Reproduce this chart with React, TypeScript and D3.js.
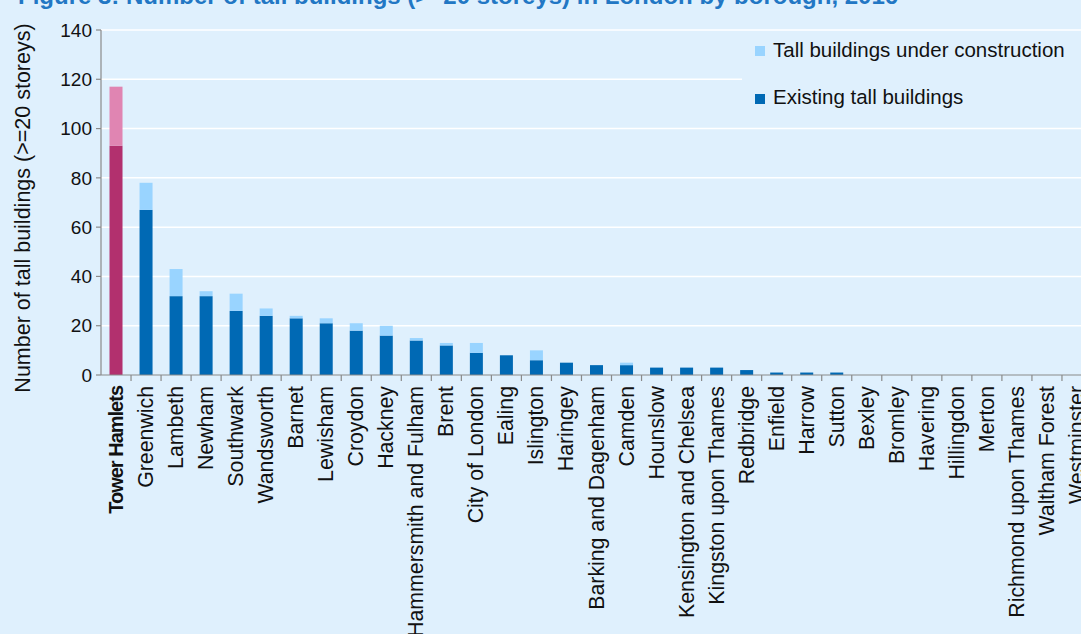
import React from 'react';
import * as d3 from 'd3';

const boroughs = [
  'Tower Hamlets', 'Greenwich', 'Lambeth', 'Newham', 'Southwark', 'Wandsworth', 'Barnet',
  'Lewisham', 'Croydon', 'Hackney', 'Hammersmith and Fulham', 'Brent', 'City of London',
  'Ealing', 'Islington', 'Haringey', 'Barking and Dagenham', 'Camden', 'Hounslow',
  'Kensington and Chelsea', 'Kingston upon Thames', 'Redbridge', 'Enfield', 'Harrow',
  'Sutton', 'Bexley', 'Bromley', 'Havering', 'Hillingdon', 'Merton',
  'Richmond upon Thames', 'Waltham Forest', 'Westminster',
];
const existing = [93, 67, 32, 32, 26, 24, 23, 21, 18, 16, 14, 12, 9, 8, 6, 5, 4, 4, 3, 3, 3, 2, 1, 1, 1, 0, 0, 0, 0, 0, 0, 0, 0];
const underConstruction = [24, 11, 11, 2, 7, 3, 1, 2, 3, 4, 1, 1, 4, 0, 4, 0, 0, 1, 0, 0, 0, 0, 0, 0, 0, 0, 0, 0, 0, 0, 0, 0, 0];
const yTicks = [0, 20, 40, 60, 80, 100, 120, 140];
const highlight = 'Tower Hamlets';

const W = 1081;
const H = 634;
const BG = '#dff0fd';
const FONT = 'Liberation Sans, Arial, sans-serif';
const AXIS = '#8a8a8a';

const App: React.FC = () => {
  const x = d3.scaleBand<string>()
    .domain(boroughs)
    .range([101, 1092])
    .paddingInner(0.567)
    .paddingOuter(0.2835);
  const y = d3.scaleLinear().domain([0, 140]).range([375, 30]);
  const step = x.step();
  const left = 101;

  const cols = {
    ex: (b: string) => (b === highlight ? '#b2306e' : '#0069b4'),
    uc: (b: string) => (b === highlight ? '#e085b2' : '#99d4ff'),
  };

  return (
    <div style={{ position: 'fixed', left: 0, top: 0 }}>
      <svg width={W} height={H} style={{ display: 'block', fontFamily: FONT }}>
        <rect width={W} height={H} fill={BG} />

        {/* title, clipped by the top edge */}
        <text x={18} y={4} fontSize={24} fontWeight="bold" fill="#2277c4">
          Figure 3: Number of tall buildings (&gt;=20 storeys) in London by borough, 2016
        </text>

        {/* grid */}
        {yTicks.filter(t => t > 0).map(t => (
          <line key={t} x1={left} x2={W} y1={y(t)} y2={y(t)} stroke="#ffffff" strokeWidth={1.5} />
        ))}

        {/* bars */}
        {boroughs.map((b, i) => {
          const bx = x(b)!;
          const ex = existing[i];
          const uc = underConstruction[i];
          return (
            <g key={b}>
              {ex > 0 && (
                <rect x={bx} y={y(ex)} width={x.bandwidth()} height={y(0) - y(ex)} fill={cols.ex(b)} />
              )}
              {uc > 0 && (
                <rect x={bx} y={y(ex + uc)} width={x.bandwidth()} height={y(ex) - y(ex + uc)} fill={cols.uc(b)} />
              )}
            </g>
          );
        })}

        {/* y axis */}
        <line x1={left} x2={left} y1={y(140)} y2={y(0)} stroke={AXIS} strokeWidth={1.2} />
        {yTicks.map(t => (
          <g key={t}>
            <line x1={left - 5} x2={left} y1={y(t)} y2={y(t)} stroke={AXIS} strokeWidth={1.2} />
            <text x={left - 9} y={y(t)} dy="0.35em" textAnchor="end" fontSize={19} fill="#111">
              {t}
            </text>
          </g>
        ))}
        <text
          transform="translate(30, 208) rotate(-90)"
          textAnchor="middle"
          fontSize={21.5}
          fill="#111"
        >
          Number of tall buildings (&gt;=20 storeys)
        </text>

        {/* x axis */}
        <line x1={left} x2={W} y1={y(0)} y2={y(0)} stroke={AXIS} strokeWidth={1.2} />
        {boroughs.map((b, i) => (
          <line key={b} x1={left + (i + 1) * step} x2={left + (i + 1) * step} y1={y(0)} y2={y(0) + 6} stroke={AXIS} strokeWidth={1.2} />
        ))}
        {boroughs.map(b => {
          const cx = x(b)! + x.bandwidth() / 2;
          const hl = b === highlight;
          return (
            <text
              key={b}
              transform={`translate(${cx + 7}, ${y(0) + 11}) rotate(-90)`}
              textAnchor="end"
              fontSize={hl ? 20 : 21.3}
              fontWeight={hl ? 'bold' : 'normal'}
              letterSpacing={hl ? -1 : 0}
              fill="#111"
            >
              {b}
            </text>
          );
        })}

        {/* legend */}
        <rect x={742} y={33} width={W - 742} height={84} fill={BG} />
        <rect x={755} y={46} width={10} height={10} fill={cols.uc('')} />
        <text x={773} y={56.5} fontSize={20.5} fill="#111">Tall buildings under construction</text>
        <rect x={755} y={94} width={10} height={10} fill={cols.ex('')} />
        <text x={773} y={104} fontSize={20.5} fill="#111">Existing tall buildings</text>
      </svg>
    </div>
  );
};

export default App;
